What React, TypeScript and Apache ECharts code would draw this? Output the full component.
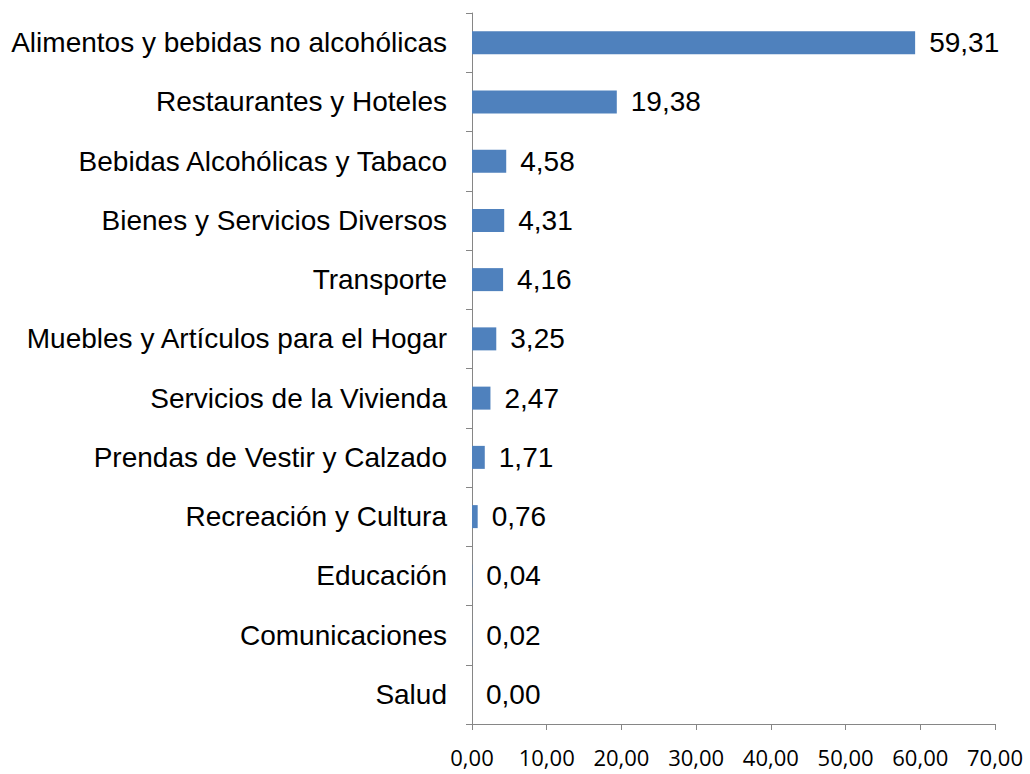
import React, { useEffect, useRef } from "react";
import * as echarts from "echarts";

const categories = [
  "Alimentos y bebidas no alcohólicas",
  "Restaurantes y Hoteles",
  "Bebidas Alcohólicas y Tabaco",
  "Bienes y Servicios Diversos",
  "Transporte",
  "Muebles y Artículos para el Hogar",
  "Servicios de la Vivienda",
  "Prendas de Vestir y Calzado",
  "Recreación y Cultura",
  "Educación",
  "Comunicaciones",
  "Salud",
];
const values = [59.31, 19.38, 4.58, 4.31, 4.16, 3.25, 2.47, 1.71, 0.76, 0.04, 0.02, 0.0];

const fmt = (v: number) => v.toFixed(2).replace(".", ",");

export default function App() {
  const ref = useRef<HTMLDivElement>(null);
  useEffect(() => {
    const chart = echarts.init(ref.current!, null, { renderer: "svg" });
    chart.setOption({
      animation: false,
      grid: { left: 472, right: 35, top: 13, bottom: 50, containLabel: false },
      xAxis: {
        type: "value",
        min: 0,
        max: 70,
        interval: 10,
        axisLine: { show: true, lineStyle: { color: "#868686", width: 1 } },
        axisTick: { show: true, length: 6, lineStyle: { color: "#868686" } },
        splitLine: { show: false },
        axisLabel: {
          formatter: (v: number) => fmt(v),
          fontFamily: "Open Sans",
          fontSize: 22,
          color: "#000",
          margin: 22,
        },
      },
      yAxis: {
        type: "category",
        data: categories,
        inverse: true,
        axisLine: { show: true, lineStyle: { color: "#868686", width: 1 } },
        axisTick: { show: true, length: 6, lineStyle: { color: "#868686" } },
        axisLabel: {
          fontFamily: "Liberation Sans",
          fontSize: 28,
          color: "#000",
          margin: 25,
        },
      },
      series: [
        {
          type: "bar",
          data: values,
          barWidth: 23,
          itemStyle: { color: "#4F81BD" },
          label: {
            show: true,
            position: "right",
            distance: 14,
            formatter: (p: any) => fmt(p.value),
            fontFamily: "Liberation Sans",
            fontSize: 28,
            color: "#000",
          },
        },
      ],
    });
    return () => chart.dispose();
  }, []);
  return <div ref={ref} style={{ width: 1030, height: 774, position: "absolute", left: 0, top: 0 }} />;
}
